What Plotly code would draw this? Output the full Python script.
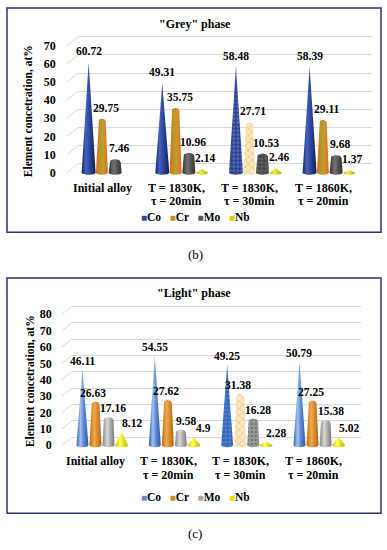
import math
import plotly.graph_objects as go

W, H = 387, 550

# ---------------- data ----------------
categories = ["Initial alloy", "T = 1830K,<br>τ = 20min", "T = 1830K,<br>τ = 30min", "T = 1860K,<br>τ = 20min"]
elements = ["Co", "Cr", "Mo", "Nb"]

grey_co = [60.72, 49.31, 58.48, 58.39]
grey_cr = [29.75, 35.75, 27.71, 29.11]
grey_mo = [7.46, 10.96, 10.53, 9.68]
grey_nb = [None, 2.14, 2.46, 1.37]

light_co = [46.11, 54.55, 49.25, 50.79]
light_cr = [26.63, 27.62, 31.38, 27.25]
light_mo = [17.16, 9.58, 16.28, 15.38]
light_nb = [8.12, 4.9, 2.28, 5.02]

grey_ticks = [0, 10, 20, 30, 40, 50, 60, 70]
light_ticks = [0, 10, 20, 30, 40, 50, 60, 70, 80]

FONT = "Liberation Serif, Times New Roman, serif"
GRID = "#D9D9D9"
BORDER = "#2E3270"


def px2x(p):
    return p / W


def px2y(p):
    return 1 - p / H


grey_style = {
    "Co": dict(kind="cone", wb=7.0, cs=[[0, "#18245A"], [0.3, "#4361C2"], [0.6, "#2B4496"], [1, "#141E4C"]],
               pat=dict(shape=".", bgcolor="#2C4390", fgcolor="#8FA3E0", size=4, solidity=0.35), legend="#2E4596"),
    "Cr": dict(kind="cyl", wb=6.0, wt=3.8, cs=[[0, "#E46A14"], [0.4, "#B49A2C"], [0.6, "#C59A30"], [1, "#E8661A"]],
               pat=dict(shape="x", bgcolor="#FBE6BE", fgcolor="#E0902C", size=5, solidity=0.25), legend="#C98A1E"),
    "Mo": dict(kind="cyl", wb=6.5, wt=5.5, cs=[[0, "#353535"], [0.4, "#727272"], [1, "#2E2E2E"]],
               pat=dict(shape=".", bgcolor="#474747", fgcolor="#8C8C8C", size=4, solidity=0.35), legend="#555555"),
    "Nb": dict(kind="cone", wb=6.0, cs=[[0, "#B5B500"], [0.4, "#F0F040"], [1, "#A8A800"]],
               pat=None, legend="#D4D400"),
}

light_style = {
    "Co": dict(kind="cone", wb=6.0, cs=[[0, "#3563B5"], [0.35, "#A4C0EE"], [0.6, "#5C8AD4"], [1, "#2D55A2"]],
               pat=dict(shape=".", bgcolor="#4A7ACB", fgcolor="#203F88", size=4, solidity=0.35), legend="#5B8BD8"),
    "Cr": dict(kind="cyl", wb=6.0, wt=4.0, cs=[[0, "#BE6C14"], [0.4, "#F2AA4A"], [1, "#B06214"]],
               pat=dict(shape="x", bgcolor="#FBE8C2", fgcolor="#E0962E", size=5, solidity=0.25), legend="#D08A28"),
    "Mo": dict(kind="cyl", wb=6.0, wt=5.0, cs=[[0, "#858585"], [0.4, "#D8D8D8"], [1, "#777777"]],
               pat=dict(shape=".", bgcolor="#9A9A9A", fgcolor="#4A4A4A", size=4, solidity=0.35), legend="#A6A6A6"),
    "Nb": dict(kind="cone", wb=6.5, cs=[[0, "#C4C400"], [0.4, "#FFFF55"], [1, "#B4B400"]],
               pat=None, legend="#E0E000"),
}

panels = [
    dict(title='"Grey" phase', series=[grey_co, grey_cr, grey_mo, grey_nb], ticks=grey_ticks, ymax=75,
         zero_px=174.0, ppu=1.829, xl=71.7, xr=366.3, gxl=78, gxr=372, gshift=9, dx0=67, standoff=15,
         box=(7, 8, 381, 234), title_y=24, title_x=195, ytx=28, yty=112, cat_lines=(189, 202), legend_y=219,
         caption="(b)", cap_y=256, style=grey_style, lab_dy=11,
         lab_dx={"Co": 0, "Cr": 4, "Mo": 4, "Nb": 3}),
    dict(title='"Light" phase', series=[light_co, light_cr, light_mo, light_nb], ticks=light_ticks, ymax=85,
         zero_px=448.5, ppu=1.65, xl=65.8, xr=355.2, gxl=72, gxr=361, gshift=8, dx0=62, standoff=13,
         box=(7, 280, 381, 517), title_y=295, title_x=194, ytx=30, yty=384, cat_lines=(464, 478), legend_y=501,
         caption="(c)", cap_y=537, style=light_style, lab_dy=9,
         lab_dx={"Co": 0, "Cr": -2, "Mo": 5, "Nb": 10}),
]

offsets = [-0.27, -0.09, 0.09, 0.27]

fig = go.Figure()
layout = dict(width=W, height=H, margin=dict(l=0, r=0, t=0, b=0), autosize=False,
              paper_bgcolor="white", plot_bgcolor="rgba(0,0,0,0)", showlegend=False)
annotations = []
shapes = []


def axn(n):
    return "" if n == 1 else str(n)


for i, p in enumerate(panels):
    gi = 2 * i + 1  # grid axes
    bi = 2 * i + 2  # bar axes
    ppu = p["ppu"]
    ymin = -2
    bot_px = p["zero_px"] - ymin * ppu
    top_px = p["zero_px"] - p["ymax"] * ppu
    # grid subplot (back wall)
    layout["xaxis" + axn(gi)] = dict(domain=[px2x(p["gxl"]), px2x(p["gxr"])], range=[0, 1], visible=False,
                                     anchor="y" + axn(gi), fixedrange=True)
    layout["yaxis" + axn(gi)] = dict(domain=[px2y(bot_px - p["gshift"]), px2y(top_px - p["gshift"])],
                                     range=[ymin, p["ymax"]], anchor="x" + axn(gi), tickvals=p["ticks"],
                                     showticklabels=False, showgrid=True, gridcolor=GRID, gridwidth=1,
                                     zeroline=False, showline=False, ticks="", fixedrange=True)
    fig.add_trace(go.Scatter(x=[0.5], y=[0], mode="markers", marker=dict(opacity=0), hoverinfo="skip",
                             xaxis="x" + axn(gi), yaxis="y" + axn(gi)))
    # bar subplot
    layout["xaxis" + axn(bi)] = dict(domain=[px2x(p["xl"]), px2x(p["xr"])], range=[-0.5, 3.5], visible=False,
                                     anchor="y" + axn(bi), fixedrange=True)
    layout["yaxis" + axn(bi)] = dict(domain=[px2y(bot_px), px2y(top_px)], range=[ymin, p["ymax"]],
                                     anchor="x" + axn(bi), tickvals=p["ticks"], ticks="", showgrid=False,
                                     zeroline=False, showline=False, ticklabelstandoff=p["standoff"],
                                     tickfont=dict(family=FONT, size=12, color="black", weight="bold"),
                                     fixedrange=True)
    xs_ppu = (p["xr"] - p["xl"]) / 4.0  # px per x unit
    xr_, yr_ = "x" + axn(bi), "y" + axn(bi)

    # diagonal floor connectors
    for t in p["ticks"]:
        shapes.append(dict(type="line", xref="paper", yref=yr_, x0=px2x(p["dx0"]), x1=px2x(p["gxl"]),
                           y0=t, y1=t + p["gshift"] / ppu, line=dict(color=GRID, width=1), layer="below"))

    # cones / cylinders
    for k, el in enumerate(elements):
        st = p["style"][el]
        vals = p["series"][k]
        for g, v in enumerate(vals):
            if v is None:
                continue
            c = g + offsets[k]
            wb = st["wb"] / xs_ppu
            hb = 2.0 / ppu
            xs, ys = [], []
            if st["kind"] == "cone":
                xs += [c - wb, c]
                ys += [0, v]
            else:
                wt = st["wt"] / xs_ppu
                hc = 3.0 / ppu
                xs.append(c - wb)
                ys.append(0)
                n = 14
                for j in range(n + 1):
                    a = math.pi - math.pi * j / n
                    xs.append(c + wt * math.cos(a))
                    ys.append(v - hc + hc * math.sin(a))
            n = 12
            for j in range(n + 1):
                a = -math.pi * j / n
                xs.append(c + wb * math.cos(a))
                ys.append(hb * math.sin(a))
            kw = dict(x=xs, y=ys, mode="lines", fill="toself", line=dict(width=0), hoverinfo="skip",
                      xaxis=xr_, yaxis=yr_, name=el)
            if g == 2 and st["pat"] is not None:
                kw["fillcolor"] = st["pat"]["bgcolor"]
                kw["fillpattern"] = st["pat"]
            else:
                kw["fillcolor"] = st["legend"]
                kw["fillgradient"] = dict(type="horizontal", colorscale=st["cs"], start=c - wb, stop=c + wb)
            fig.add_trace(go.Scatter(**kw))
            annotations.append(dict(x=c, y=v, xref=xr_, yref=yr_, text=f"{v:g}", showarrow=False,
                                    xshift=p["lab_dx"][el], yshift=p["lab_dy"], yanchor="middle",
                                    font=dict(family=FONT, size=11.5, color="black", weight="bold")))

    # category labels (one annotation per line for exact line spacing)
    for g, cat in enumerate(categories):
        for li, line in enumerate(cat.split("<br>")):
            annotations.append(dict(x=g, y=px2y(p["cat_lines"][li]), xref=xr_, yref="paper", text=line,
                                    showarrow=False, xshift=-6, yanchor="middle", xanchor="center",
                                    font=dict(family=FONT, size=12, color="black", weight="bold")))
    # title
    annotations.append(dict(x=px2x(p["title_x"]), y=px2y(p["title_y"]), xref="paper", yref="paper",
                            text=p["title"], showarrow=False, xanchor="center", yanchor="middle",
                            font=dict(family=FONT, size=12, color="black", weight="bold")))
    # y title
    annotations.append(dict(x=px2x(p["ytx"]), y=px2y(p["yty"]), xref="paper", yref="paper",
                            text="Element concetration, at%", textangle=-90, showarrow=False,
                            xanchor="center", yanchor="middle",
                            font=dict(family=FONT, size=11.5, color="black", weight="bold")))
    # legend
    parts = []
    for el in elements:
        parts.append(f'<span style="color:{p["style"][el]["legend"]};font-size:10px">■</span>{el}')
    annotations.append(dict(x=px2x(195), y=px2y(p["legend_y"]), xref="paper", yref="paper",
                            text="   ".join(parts), showarrow=False, xanchor="center", yanchor="middle",
                            font=dict(family=FONT, size=11.5, color="black", weight="bold")))
    # caption
    annotations.append(dict(x=px2x(195), y=px2y(p["cap_y"]), xref="paper", yref="paper", text=p["caption"],
                            showarrow=False, xanchor="center", yanchor="middle",
                            font=dict(family=FONT, size=13, color="black")))
    # frame
    x0, y0, x1, y1 = p["box"]
    shapes.append(dict(type="rect", xref="paper", yref="paper", x0=px2x(x0), x1=px2x(x1), y0=px2y(y1),
                       y1=px2y(y0), line=dict(color=BORDER, width=1.5), fillcolor="rgba(0,0,0,0)"))

layout["annotations"] = annotations
layout["shapes"] = shapes
fig.update_layout(**layout)
fig.write_html("out.html", config={"displayModeBar": False},
               post_script="document.body.style.margin='0px';document.body.style.overflow='hidden';")
